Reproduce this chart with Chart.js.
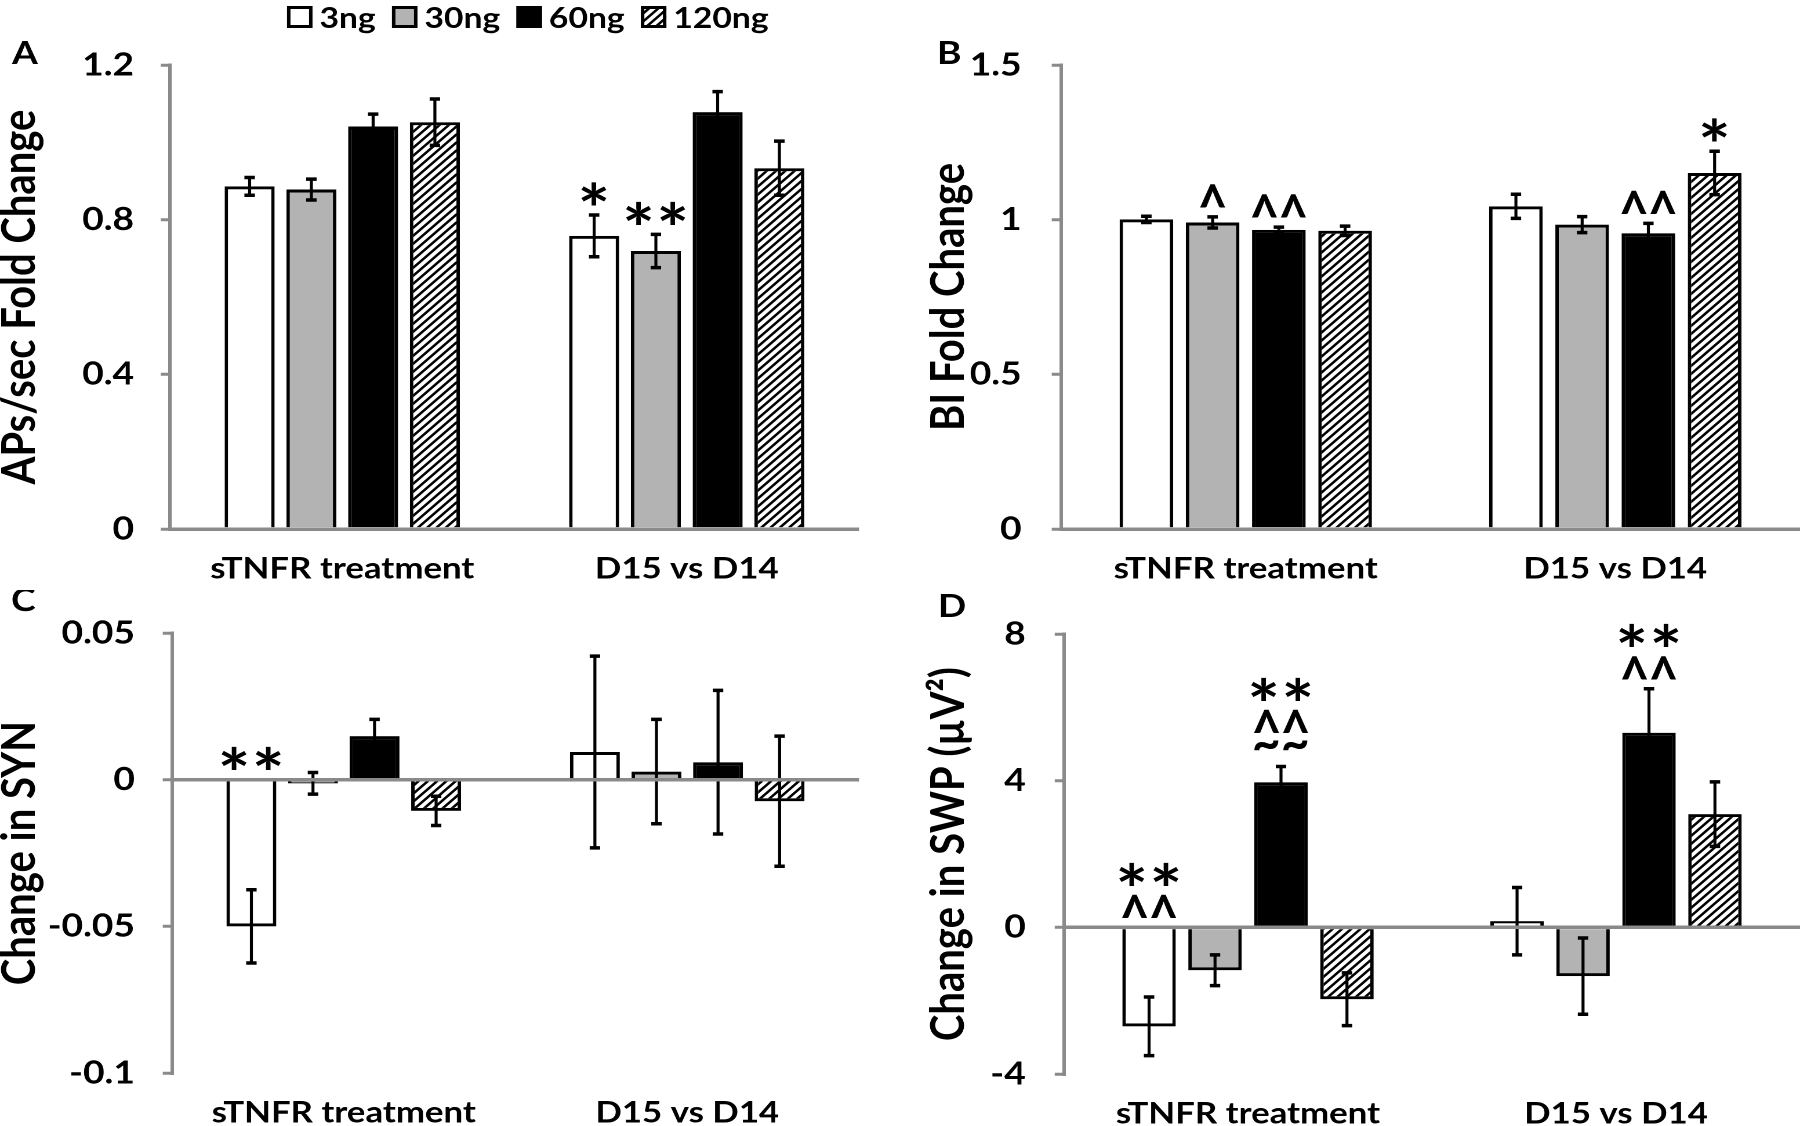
<!DOCTYPE html>
<html lang="pt-BR">
<head>
<meta charset="utf-8">
<title>Painéis A-D</title>
<script src="https://cdn.jsdelivr.net/npm/chart.js@4.4.1/dist/chart.umd.min.js"></script>
<style>
  html, body { margin: 0; padding: 0; background: #fff; }
  body { position: relative; width: 1800px; height: 1126px; overflow: hidden; }
  canvas { position: absolute; }
</style>
</head>
<body>
<canvas id="painelA"></canvas>
<canvas id="painelB"></canvas>
<canvas id="painelC"></canvas>
<canvas id="painelD"></canvas>
<script>
// =========================================================
// 1. DADOS
// =========================================================
const categorias = ['sTNFR treatment', 'D15 vs D14'];
const doses = ['3ng', '30ng', '60ng', '120ng'];

// Cada lista interna = uma dose, na ordem [sTNFR treatment, D15 vs D14]
const mediaA = [[0.886, 0.758], [0.878, 0.719], [1.041, 1.078], [1.052, 0.933]];
const erroA  = [[0.023, 0.054], [0.027, 0.043], [0.032, 0.053], [0.060, 0.070]];
const ticksA = [0, 0.4, 0.8, 1.2];

const mediaB = [[1.001, 1.043], [0.991, 0.984], [0.967, 0.956], [0.964, 1.151]];
const erroB  = [[0.010, 0.039], [0.018, 0.026], [0.009, 0.032], [0.015, 0.070]];
const ticksB = [0, 0.5, 1, 1.5];

const mediaC = [[-0.050, 0.0095], [-0.0012, 0.0028], [0.0149, 0.0060], [-0.0106, -0.0073]];
const erroC  = [[0.0125, 0.0327], [0.0037, 0.0178], [0.0057, 0.0245], [0.0050, 0.0222]];
const ticksC = [-0.1, -0.05, 0, 0.05];

const mediaD = [[-2.70, 0.17], [-1.17, -1.33], [3.96, 5.31], [-1.96, 3.09]];
const erroD  = [[0.80, 0.92], [0.42, 1.04], [0.43, 1.20], [0.72, 0.88]];
const ticksD = [-4, 0, 4, 8];

// Marcas de significância: [dose, categoria, linhas de cima para baixo]
const marcasA = [[0, 1, ['*']], [1, 1, ['**']]];
const marcasB = [[1, 0, ['^']], [2, 0, ['^^']], [2, 1, ['^^']], [3, 1, ['*']]];
const marcasC = [[0, 0, ['**']]];
const marcasD = [[0, 0, ['**', '^^']], [2, 0, ['**', '^^', '~~']], [2, 1, ['**', '^^']]];


// =========================================================
// 2. ESTILO GERAL
// =========================================================
// A figura original é esticada na horizontal; cada canvas tem 776 px
// lógicos mostrados em 900 px de largura.
const LARG = 776;
const S = 900 / LARG;
const CINZA = '#8a8a8a';
const FONTE = 'Lato, "Open Sans", sans-serif';

// Hachura "////" da dose de 120ng
function criarHachura() {
    const t = document.createElement('canvas');
    t.width = 16; t.height = 16;
    const c = t.getContext('2d');
    c.fillStyle = '#fff';
    c.fillRect(0, 0, 16, 16);
    c.strokeStyle = '#000';
    c.lineWidth = 4.6;
    c.beginPath();
    c.moveTo(-4, 20); c.lineTo(20, -4);
    c.moveTo(-4, 4); c.lineTo(4, -4);
    c.moveTo(12, 20); c.lineTo(20, 12);
    c.stroke();
    const p = c.createPattern(t, 'repeat');
    p.setTransform(new DOMMatrix().scale(0.5));
    return p;
}
const preenchimentos = ['#ffffff', '#b3b3b3', '#000000', criarHachura()];


// =========================================================
// 3. PLUGINS: BARRAS DE ERRO, MARCAS E TEXTOS SOLTOS
// =========================================================
function pluginErros(erros) {
    return {
        id: 'barrasDeErro',
        afterDatasetsDraw(chart) {
            const ctx = chart.ctx, y = chart.scales.y;
            ctx.save();
            ctx.strokeStyle = '#000';
            chart.data.datasets.forEach((ds, i) => {
                chart.getDatasetMeta(i).data.forEach((barra, j) => {
                    const m = ds.data[j], e = erros[i][j];
                    const yTopo = y.getPixelForValue(m + e);
                    const yBase = y.getPixelForValue(m - e);
                    ctx.lineWidth = 2.6;
                    ctx.beginPath();
                    ctx.moveTo(barra.x, yTopo); ctx.lineTo(barra.x, yBase);
                    ctx.stroke();
                    ctx.lineWidth = 3.5;
                    ctx.beginPath();
                    ctx.moveTo(barra.x - 4.5, yTopo); ctx.lineTo(barra.x + 4.5, yTopo);
                    ctx.moveTo(barra.x - 4.5, yBase); ctx.lineTo(barra.x + 4.5, yBase);
                    ctx.stroke();
                });
            });
            ctx.restore();
        }
    };
}

// tamanho da "tinta" de cada símbolo: [largura, altura, passo]
const simbolos = { '*': [22, 23, 29.5], '^': [22.5, 23, 25], '~': [21, 10, 25] };

function desenharSimbolo(ctx, ch, x, yc) {
    const [w, h] = simbolos[ch];
    ctx.font = 'bold 100px ' + FONTE;
    const m = ctx.measureText(ch);
    const tintaW = m.actualBoundingBoxLeft + m.actualBoundingBoxRight;
    const tintaH = m.actualBoundingBoxAscent + m.actualBoundingBoxDescent;
    ctx.save();
    ctx.translate(x, yc);
    ctx.scale(w / tintaW, h / tintaH);
    ctx.textAlign = 'left';
    ctx.textBaseline = 'alphabetic';
    ctx.fillText(ch, -(m.actualBoundingBoxRight - m.actualBoundingBoxLeft) / 2,
                 (m.actualBoundingBoxAscent - m.actualBoundingBoxDescent) / 2);
    ctx.restore();
}

function desenharLinha(ctx, txt, x, yc) {
    const passo = simbolos[txt[0]][2];
    const x0 = x - passo * (txt.length - 1) / 2;
    for (let k = 0; k < txt.length; k++) desenharSimbolo(ctx, txt[k], x0 + k * passo, yc);
}

function pluginTextos(cfg) {
    return {
        id: 'textosSoltos',
        afterDraw(chart) {
            const ctx = chart.ctx, y = chart.scales.y;
            ctx.save();
            ctx.fillStyle = '#000';

            // Letra do painel
            ctx.font = 'bold 32px ' + FONTE;
            ctx.textAlign = 'left';
            ctx.textBaseline = 'alphabetic';
            ctx.fillText(cfg.letra, cfg.letraX / S, cfg.letraY);

            // Marcas acima das barras (empilhadas de baixo para cima)
            cfg.marcas.forEach(([d, c, linhas]) => {
                const barra = chart.getDatasetMeta(d).data[c];
                const topo = Math.max(0, cfg.media[d][c] + cfg.erro[d][c]);
                let yc = y.getPixelForValue(topo) - 21;
                for (let k = linhas.length - 1; k >= 0; k--) {
                    desenharLinha(ctx, linhas[k], barra.x, yc);
                    yc -= (linhas[k] === '~~') ? 24 : 32;
                }
            });

            // Legenda (só no painel A)
            if (cfg.legenda) {
                let x = 287 / S;
                ctx.font = 'bold 29px ' + FONTE;
                chart.data.datasets.forEach(ds => {
                    ctx.fillStyle = ds.backgroundColor;
                    ctx.fillRect(x, 6, 22, 22);
                    ctx.strokeStyle = '#000';
                    ctx.lineWidth = 3;
                    ctx.strokeRect(x + 1.5, 7.5, 19, 19);
                    ctx.fillStyle = '#000';
                    ctx.fillText(ds.label, x + 28, 28);
                    x += 28 + ctx.measureText(ds.label).width + 14;
                });
            }
            ctx.restore();
        }
    };
}


// =========================================================
// 4. CRIAÇÃO DE CADA PAINEL
// =========================================================
function criarPainel(id, cfg) {
    const canvas = document.getElementById(id);
    canvas.width = LARG;
    canvas.height = cfg.altura;
    canvas.style.left = cfg.x + 'px';
    canvas.style.top = cfg.y + 'px';
    canvas.style.width = '900px';
    canvas.style.height = cfg.altura + 'px';

    const esq = cfg.esq / S;
    const dir = cfg.dir / S;

    return new Chart(canvas, {
        type: 'bar',
        data: {
            labels: categorias,
            datasets: doses.map((dose, i) => ({
                label: dose,
                data: cfg.media[i],
                backgroundColor: preenchimentos[i],
                borderColor: '#000',
                borderWidth: 3,
                borderSkipped: 'start',
                barPercentage: 0.81,
                categoryPercentage: 0.717
            }))
        },
        options: {
            responsive: false,
            devicePixelRatio: 2,
            animation: false,
            events: [],
            layout: { padding: { left: 0, right: LARG - dir, top: cfg.topo, bottom: 0 } },
            plugins: { legend: { display: false }, tooltip: { enabled: false } },
            scales: {
                x: {
                    offset: true,
                    grid: { display: false, drawTicks: false },
                    border: { display: false },
                    ticks: {
                        color: '#000',
                        font: { family: FONTE, size: 30, weight: 'bold' },
                        padding: 22,
                        maxRotation: 0,
                        autoSkip: false
                    },
                    afterFit: s => { s.height = cfg.altura - cfg.base; }
                },
                y: {
                    min: cfg.ticks[0],
                    max: cfg.ticks[cfg.ticks.length - 1],
                    afterBuildTicks: s => { s.ticks = cfg.ticks.map(v => ({ value: v })); },
                    ticks: {
                        color: '#000',
                        font: { family: FONTE, size: 32, weight: 'bold' },
                        padding: cfg.tickPad,
                        callback: v => String(parseFloat(Number(v).toFixed(3)))
                    },
                    // só a linha do zero atravessa a área; as outras ficam só como marca
                    grid: {
                        color: c => (c.tick && Math.abs(c.tick.value) < 1e-9) ? CINZA : 'rgba(0,0,0,0)',
                        lineWidth: 3.5,
                        tickColor: CINZA,
                        tickLength: 8,
                        tickWidth: 3,
                        z: 1
                    },
                    border: { color: CINZA, width: 3, z: 1 },
                    title: {
                        display: true,
                        text: cfg.titulo,
                        color: '#000',
                        font: { family: FONTE, size: 40, weight: 'bold', lineHeight: 1 },
                        padding: { top: cfg.tituloPad, bottom: 0 }
                    },
                    afterFit: s => { s.width = esq; }
                }
            }
        },
        plugins: [pluginErros(cfg.erro), pluginTextos(cfg)]
    });
}


// =========================================================
// 5. INICIALIZAÇÃO
// =========================================================
criarPainel('painelA', {
    x: 0, y: 0, altura: 590, esq: 170, dir: 859, topo: 65, base: 529,
    media: mediaA, erro: erroA, ticks: ticksA, marcas: marcasA,
    titulo: 'APs/sec Fold Change', tituloPad: -3, tickPad: 23,
    letra: 'A', letraX: 12, letraY: 64, legenda: true
});
criarPainel('painelB', {
    x: 900, y: 0, altura: 590, esq: 161, dir: 900, topo: 65, base: 529,
    media: mediaB, erro: erroB, ticks: ticksB, marcas: marcasB,
    titulo: 'BI Fold Change', tituloPad: 22, tickPad: 26,
    letra: 'B', letraX: 37, letraY: 64
});
criarPainel('painelC', {
    x: 0, y: 590, altura: 536, esq: 172, dir: 859, topo: 22, base: 483,
    media: mediaC, erro: erroC, ticks: ticksC, marcas: marcasC,
    titulo: 'Change in SYN', tituloPad: -3, tickPad: 24,
    letra: 'C', letraX: 11, letraY: 21
});
criarPainel('painelD', {
    x: 900, y: 590, altura: 536, esq: 164, dir: 900, topo: 21, base: 484,
    media: mediaD, erro: erroD, ticks: ticksD, marcas: marcasD,
    titulo: 'Change in SWP (µV²)', tituloPad: 22, tickPad: 25,
    letra: 'D', letraX: 38, letraY: 27
});
</script>
</body>
</html>
